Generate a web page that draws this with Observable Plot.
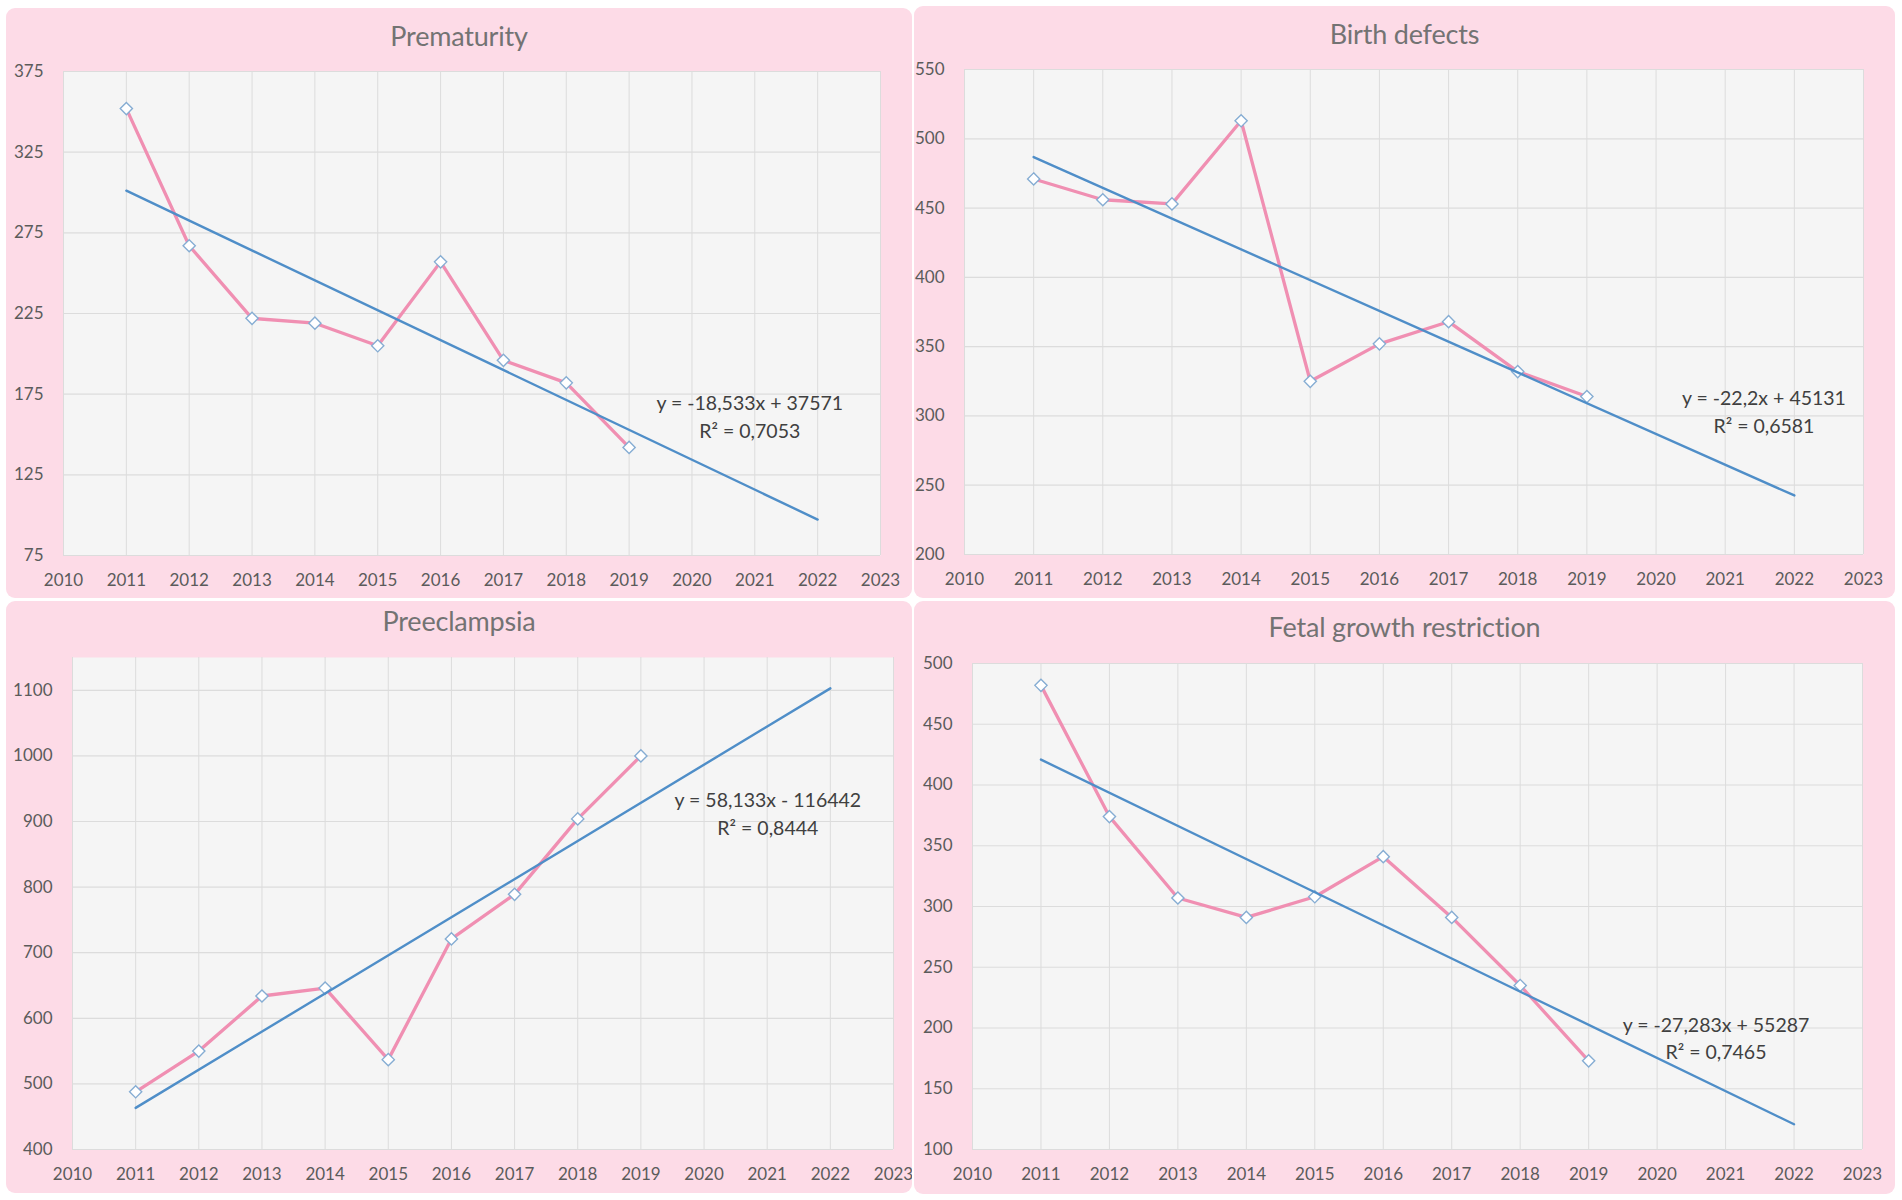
<!DOCTYPE html>
<html><head><meta charset="utf-8">
<script src="https://cdn.jsdelivr.net/npm/d3@7"></script>
<script src="https://cdn.jsdelivr.net/npm/@observablehq/plot@0.6"></script>
<style>
html,body{margin:0;padding:0;background:#ffffff;}
body{width:1902px;height:1200px;position:relative;overflow:hidden;font-family:Lato,"Open Sans",sans-serif;}
.panel{position:absolute;background:#fddbe7;border-radius:9px;overflow:hidden;}
.title{position:absolute;left:0;right:0;text-align:center;font-size:27px;line-height:30px;color:#737373;font-family:Lato,sans-serif;letter-spacing:-0.2px;}
.panel svg{position:absolute;left:0;}
</style></head><body>
<script>
// ---- data ----
const years = [2011, 2012, 2013, 2014, 2015, 2016, 2017, 2018, 2019];
const xTickYears = [2010, 2011, 2012, 2013, 2014, 2015, 2016, 2017, 2018, 2019, 2020, 2021, 2022, 2023];
const trendYears = [2011, 2022];

const prematurity = [352, 267, 222, 219, 205, 257, 196, 182, 142];
const birthDefects = [471, 456, 453, 513, 325, 352, 368, 332, 314];
const preeclampsia = [488, 550, 634, 646, 537, 721, 789, 904, 1000];
const fetalGrowth = [482, 374, 307, 291, 308, 341, 291, 235, 173];

const titles = ["Prematurity", "Birth defects", "Preeclampsia", "Fetal growth restriction"];
const trendSlopes = [-18.533, -22.2, 58.133, -27.283];
const trendIntercepts = [37571, 45131, -116442, 55287];
const equationLabels = ["y = -18,533x + 37571", "y = -22,2x + 45131", "y = 58,133x - 116442", "y = -27,283x + 55287"];
const r2Labels = ["R² = 0,7053", "R² = 0,6581", "R² = 0,8444", "R² = 0,7465"];

const yTicksPrematurity = [75, 125, 175, 225, 275, 325, 375];
const yTicksBirthDefects = [200, 250, 300, 350, 400, 450, 500, 550];
const yTicksPreeclampsia = [400, 500, 600, 700, 800, 900, 1000, 1100];
const yTicksFetalGrowth = [100, 150, 200, 250, 300, 350, 400, 450, 500];

const yDomains = [[75, 375], [200, 550], [400, 1150], [100, 500]];
// annotation anchor in data units (year, value)
const labelAnchorX = [2020.92, 2021.56, 2021.01, 2020.86];
const labelAnchorY = [162, 304, 914, 193];

// ---- layout (page pixels) ----
const layout = [
  {panel: [6, 8, 912, 598],    plot: [63, 71, 880, 555],    titleY: 36},
  {panel: [914, 6, 1895, 598], plot: [964, 69, 1863, 554],  titleY: 34},
  {panel: [6, 601, 912, 1193], plot: [72, 657, 893, 1149],  titleY: 621},
  {panel: [914, 601, 1895, 1194], plot: [972, 663, 1862, 1149], titleY: 627}
];
const series = [prematurity, birthDefects, preeclampsia, fetalGrowth];
const yTicksAll = [yTicksPrematurity, yTicksBirthDefects, yTicksPreeclampsia, yTicksFetalGrowth];
const svgOffset = 48;

series.forEach((vals, i) => {
  const L = layout[i];
  const [px0, py0, px1, py1] = L.panel;
  const [qx0, qy0, qx1, qy1] = L.plot;
  const panel = document.createElement("div");
  panel.className = "panel";
  panel.style.left = px0 + "px";
  panel.style.top = py0 + "px";
  panel.style.width = (px1 - px0) + "px";
  panel.style.height = (py1 - py0) + "px";

  const title = document.createElement("div");
  title.className = "title";
  title.textContent = titles[i];
  title.style.top = (L.titleY - py0 - 15) + "px";
  panel.appendChild(title);

  const data = years.map((y, k) => ({year: y, value: vals[k]}));
  const trend = trendYears.map(y => ({year: y, value: trendSlopes[i] * y + trendIntercepts[i]}));
  const label = [{x: labelAnchorX[i], y: labelAnchorY[i], text: equationLabels[i] + "\n" + r2Labels[i]}];
  const yTicks = yTicksAll[i];

  const W = px1 - px0;
  const H = py1 - py0 - svgOffset;
  const chart = Plot.plot({
    width: W,
    height: H,
    marginLeft: qx0 - px0,
    marginRight: px1 - qx1,
    marginTop: qy0 - py0 - svgOffset,
    marginBottom: py1 - qy1,
    style: {background: "transparent", fontFamily: "Lato, 'Open Sans', sans-serif", fontSize: "17px", color: "#5b5b5b", overflow: "visible"},
    x: {domain: [2010, 2023], label: null},
    y: {domain: yDomains[i], label: null},
    marks: [
      Plot.frame({fill: "#f5f5f5", stroke: null}),
      Plot.gridX(xTickYears, {stroke: "#dcdcdc", strokeOpacity: 1, strokeWidth: 1}),
      Plot.gridY(yTicks, {stroke: "#dcdcdc", strokeOpacity: 1, strokeWidth: 1.2}),
      Plot.axisX(xTickYears, {tickSize: 0, tickPadding: 18, tickFormat: d => String(d), label: null, fill: "#5b5b5b"}),
      Plot.axisY(yTicks, {tickSize: 0, tickPadding: 20, tickFormat: d => String(d), label: null, fill: "#5b5b5b"}),
      Plot.line(data, {x: "year", y: "value", stroke: "#f08fb2", strokeWidth: 3.3}),
      Plot.dot(data, {x: "year", y: "value", symbol: "diamond2", r: 5.5, fill: "#ffffff", stroke: "#86add3", strokeWidth: 1.4}),
      Plot.line(trend, {x: "year", y: "value", stroke: "#4f8ec8", strokeWidth: 2.4}),
      Plot.text(label, {x: "x", y: "y", text: "text", fontSize: 19.5, lineHeight: 1.4, fill: "#404040", textAnchor: "middle", lineAnchor: "middle"})
    ]
  });
  chart.style.top = svgOffset + "px";
  panel.appendChild(chart);
  document.body.appendChild(panel);
});
</script>
</body></html>
